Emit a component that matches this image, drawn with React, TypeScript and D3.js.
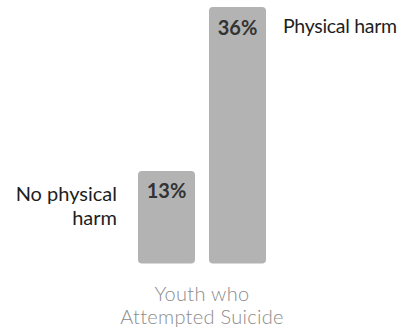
import React from "react";
import * as d3 from "d3";

// Share of youth who attempted suicide, by whether the attempt caused physical harm
const categories = ["No physical harm", "Physical harm"];
const values = [13, 36];
const valueLabels = ["13%", "36%"];
const sideLabels = [["No physical", "harm"], ["Physical harm"]];
const axisLabel = ["Youth who", "Attempted Suicide"];

const W = 407;
const H = 331;
const FONT = "Lato, 'Open Sans', sans-serif";

export default function App() {
  const x = d3.scaleBand<string>().domain(categories).range([138, 266]).paddingInner(0.197).paddingOuter(0);
  const y = d3.scaleLinear().domain([0, 36]).range([263.5, 7]);
  const bw = x.bandwidth();

  return (
    <svg width={W} height={H} style={{ position: "absolute", left: 0, top: 0, background: "#fff" }}>
      {categories.map((c, i) => {
        const x0 = x(c)!;
        const top = y(values[i]);
        const cx = x0 + bw / 2;
        return (
          <g key={c}>
            <rect x={x0} y={top} width={bw} height={y(0) - top} rx={4} ry={4} fill="#b3b3b3" />
            <text x={cx} y={top + 27.5} textAnchor="middle" fontFamily={FONT} fontWeight={700} fontSize={20} fill="#333">
              {valueLabels[i]}
            </text>
            {i === 0
              ? sideLabels[i].map((t, k) => (
                  <text key={k} x={x0 - 21} y={top + 30 + k * 24} textAnchor="end" fontFamily={FONT} fontSize={20} fill="#1e1e1e">
                    {t}
                  </text>
                ))
              : sideLabels[i].map((t, k) => (
                  <text key={k} x={x0 + bw + 17} y={top + 25.5 + k * 24} textAnchor="start" fontFamily={FONT} fontSize={19.5} letterSpacing={-0.3} fill="#1e1e1e">
                    {t}
                  </text>
                ))}
          </g>
        );
      })}
      {axisLabel.map((t, k) => (
        <text key={k} x={202} y={301 + k * 23} textAnchor="middle" fontFamily={FONT} fontWeight={300} fontSize={20} letterSpacing={0.3} fill="#8c8c8c">
          {t}
        </text>
      ))}
    </svg>
  );
}
